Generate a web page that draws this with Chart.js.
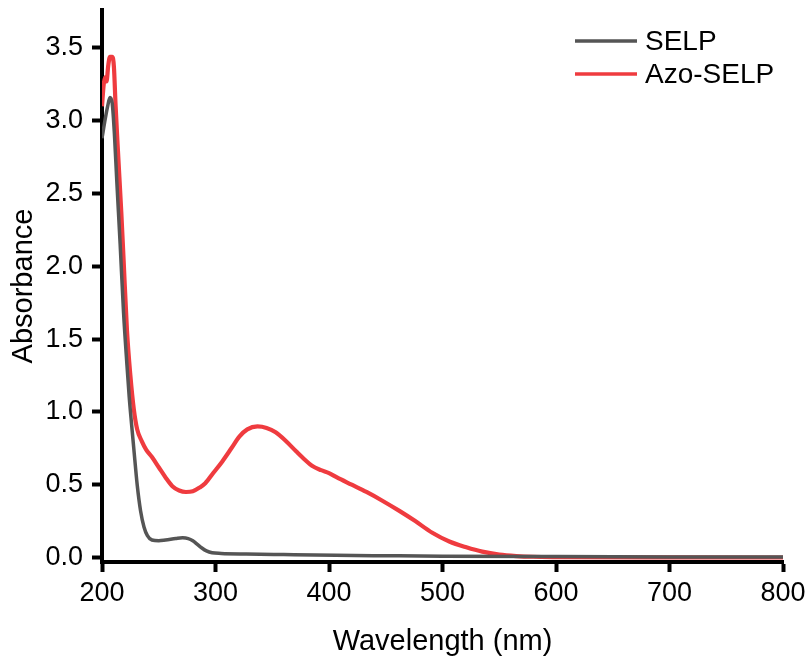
<!DOCTYPE html>
<html>
<head>
<meta charset="utf-8">
<script src="https://cdn.jsdelivr.net/npm/chart.js@4"></script>
<style>
html,body{margin:0;padding:0;background:#fff;}
#wrap{width:811px;height:663px;position:relative;}
</style>
</head>
<body>
<div id="wrap"><canvas id="c" width="811" height="663"></canvas></div>
<script>
const seriesNames = ["SELP", "Azo-SELP"];
const xTicks = [200, 300, 400, 500, 600, 700, 800];
const yTicks = [0.0, 0.5, 1.0, 1.5, 2.0, 2.5, 3.0, 3.5];

const wavelengthSELP = [200,203,205,207,209,211,213,216,219,222,224,226,228,231,234,237,240,244,250,256,265,271,276,280,284,288,292,297,305,327,360,406,450,500,600,700,800];
const absSELP =        [2.88,3.02,3.10,3.16,3.12,2.90,2.59,2.15,1.68,1.32,1.10,0.92,0.75,0.50,0.32,0.21,0.15,0.12,0.115,0.12,0.13,0.135,0.13,0.115,0.09,0.065,0.045,0.032,0.028,0.024,0.02,0.015,0.012,0.009,0.006,0.004,0.003];

const wavelengthAzo = [200,201.5,203,204,205.5,207,209,210.5,212,214,217,219,222,225,228,231,235,239,244,250,256,262,268,274,280,286,291,298,306,314,321,328,337,345,353,362,371,379,385,393,400,407,420,433,447,462,476,491,506,521,535,550,565,580,600,700,800];
const absAzo =        [3.10,3.25,3.30,3.27,3.38,3.44,3.44,3.37,3.10,2.80,2.37,2.05,1.56,1.25,1.02,0.88,0.80,0.74,0.69,0.62,0.55,0.49,0.46,0.45,0.455,0.48,0.51,0.58,0.66,0.75,0.83,0.88,0.90,0.89,0.86,0.80,0.73,0.67,0.63,0.60,0.58,0.55,0.50,0.45,0.39,0.32,0.25,0.17,0.11,0.07,0.04,0.02,0.01,0.005,0.003,0.001,0.0];

const colors = ["#555555", "#ef3b3f"];

function toPoints(xs, ys){ return xs.map((x,i)=>({x:x, y:ys[i]})); }

const FONT = "'Liberation Sans', Arial, sans-serif";

const legendPlugin = {
  id: 'customLegend',
  afterDraw(chart){
    const ctx = chart.ctx;
    ctx.save();
    chart.data.datasets.forEach((ds, i) => {
      const y = 41 + i * 33;
      ctx.strokeStyle = ds.borderColor;
      ctx.lineWidth = 3.5;
      ctx.beginPath();
      ctx.moveTo(575, y);
      ctx.lineTo(637, y);
      ctx.stroke();
      ctx.fillStyle = '#000';
      ctx.font = "28px " + FONT;
      ctx.textBaseline = 'middle';
      ctx.textAlign = 'left';
      ctx.fillText(ds.label, 645, y + 1);
    });
    ctx.restore();
  }
};

new Chart(document.getElementById('c'), {
  type: 'line',
  data: {
    datasets: [
      { label: seriesNames[0], data: toPoints(wavelengthSELP, absSELP), borderColor: colors[0], backgroundColor: colors[0], borderWidth: 3.5, pointRadius: 0, cubicInterpolationMode: 'monotone', fill: false },
      { label: seriesNames[1], data: toPoints(wavelengthAzo, absAzo), borderColor: colors[1], backgroundColor: colors[1], borderWidth: 4.2, pointRadius: 0, cubicInterpolationMode: 'monotone', fill: false }
    ]
  },
  options: {
    responsive: false,
    animation: false,
    events: [],
    layout: { padding: { left: 0, right: 28, top: 10, bottom: 0 } },
    plugins: { legend: { display: false }, tooltip: { enabled: false } },
    scales: {
      x: {
        type: 'linear',
        min: 200, max: 800,
        afterFit(scale){ scale.height = 101; scale.paddingLeft = 0; },
        afterBuildTicks(scale){ scale.ticks = xTicks.map(v => ({value: v})); },
        border: { display: true, color: '#000', width: 4 },
        grid: { display: true, drawOnChartArea: false, drawTicks: true, tickLength: 10, tickWidth: 4, tickColor: '#000', color: '#000' },
        ticks: { color: '#000', font: { family: FONT, size: 27 }, padding: 5, maxRotation: 0, callback: v => String(v) },
        title: { display: true, text: 'Wavelength (nm)', color: '#000', font: { family: FONT, size: 29 }, padding: { top: 0, bottom: 4 } }
      },
      y: {
        type: 'linear',
        min: -0.031, max: 3.761,
        afterFit(scale){ scale.width = 102; scale.paddingTop = 0; scale.paddingBottom = 0; },
        afterBuildTicks(scale){ scale.ticks = yTicks.map(v => ({value: v})); },
        border: { display: true, color: '#000', width: 4 },
        grid: { display: true, drawOnChartArea: false, drawTicks: true, tickLength: 10, tickWidth: 4, tickColor: '#000', color: '#000' },
        ticks: { color: '#000', font: { family: FONT, size: 27 }, padding: 9, callback: v => Number(v).toFixed(1) },
        title: { display: true, text: 'Absorbance', color: '#000', font: { family: FONT, size: 29 }, padding: { top: 7, bottom: 0 } }
      }
    }
  },
  plugins: [legendPlugin]
});
</script>
</body>
</html>
